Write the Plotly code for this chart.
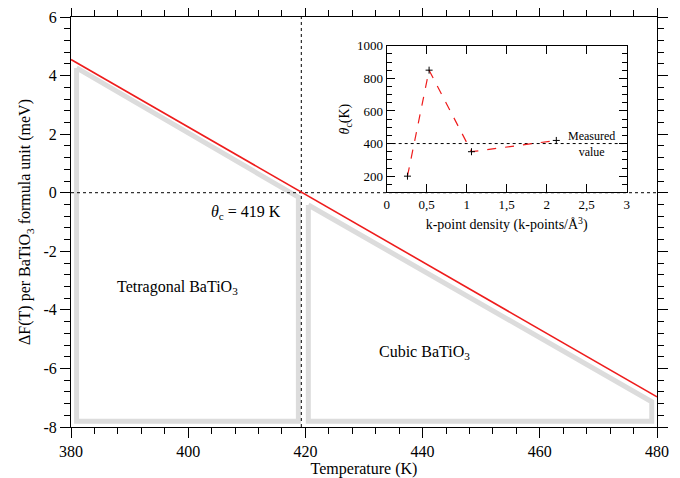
import plotly.graph_objects as go

# ---- Main panel data ----
temp_line = [380, 480]
dF_line = [4.55, -6.97]

tet_x = [380.95, 380.95, 418.8, 418.8, 380.95]
tet_y = [4.26, -7.8, -7.8, -0.15, 4.26]
cub_x = [420.5, 420.5, 479.1, 479.1, 420.5]
cub_y = [-0.42, -7.8, -7.8, -7.14, -0.42]

theta_c = 419.3
zero_x = [380, 480]
zero_y = [0, 0]
vline_y = [-8, 6]

main_y_ticks = [-8, -6, -4, -2, 0, 2, 4, 6]
main_y_labels = ["-8", "-6", "-4", "-2", "0", "2", "4", "6"]

# ---- Inset data ----
kdens = [0.26, 0.53, 1.06, 2.12]
theta = [200, 850, 350, 419]
measured = 400
inset_x_ticks = [0, 0.5, 1, 1.5, 2, 2.5, 3]
inset_x_labels = ["0", "0,5", "1", "1,5", "2", "2,5", "3"]
inset_y_ticks = [200, 400, 600, 800, 1000]

FONT = "Liberation Serif"
GRAY = "#dcdcdc"

fig = go.Figure()

# gray region outlines
fig.add_trace(go.Scatter(x=tet_x, y=tet_y, mode="lines",
                         line=dict(color=GRAY, width=5), hoverinfo="skip"))
fig.add_trace(go.Scatter(x=cub_x, y=cub_y, mode="lines",
                         line=dict(color=GRAY, width=5), hoverinfo="skip"))
# dotted reference lines
fig.add_trace(go.Scatter(x=zero_x, y=zero_y, mode="lines",
                         line=dict(color="black", width=1, dash="dot")))
fig.add_trace(go.Scatter(x=[theta_c, theta_c], y=vline_y, mode="lines",
                         line=dict(color="black", width=1, dash="dot")))
# red free energy line
fig.add_trace(go.Scatter(x=temp_line, y=dF_line, mode="lines",
                         line=dict(color="#ee1c1c", width=1.6)))

# inset
fig.add_trace(go.Scatter(x=[0, 3], y=[measured, measured], mode="lines",
                         line=dict(color="black", width=1, dash="dot"),
                         xaxis="x2", yaxis="y2"))
fig.add_trace(go.Scatter(x=kdens, y=theta, mode="lines+markers",
                         line=dict(color="#ee1c1c", width=1.2, dash="dash"),
                         marker=dict(symbol="cross-thin", size=5, color="black",
                                     line=dict(color="black", width=1)),
                         xaxis="x2", yaxis="y2"))

fig.update_layout(
    width=672, height=470,
    margin=dict(l=63, r=23, t=9, b=51, autoexpand=False),
    paper_bgcolor="white", plot_bgcolor="white",
    showlegend=False,
    font=dict(family=FONT, size=16, color="black"),
    xaxis=dict(range=[380, 480], dtick=20, tick0=380, automargin=False,
               showline=True, linecolor="black", linewidth=1, mirror="ticks",
               ticks="outside", ticklen=10, tickcolor="black",
               minor=dict(dtick=4, ticklen=6, ticks="outside", tickcolor="black"),
               showgrid=False, zeroline=False,
               title=dict(text="Temperature (K)", standoff=2,
                          font=dict(size=16))),
    yaxis=dict(range=[-8, 6], tickvals=main_y_ticks, ticktext=main_y_labels,
               automargin=False,
               showline=True, linecolor="black", linewidth=1, mirror="ticks",
               ticks="outside", ticklen=10, tickcolor="black",
               minor=dict(dtick=0.4, tick0=0, ticklen=6, ticks="outside",
                          tickcolor="black"),
               showgrid=False, zeroline=False,
               title=dict(text="ΔF(T) per BaTiO<sub>3</sub> formula unit (meV)",
                          standoff=8, font=dict(size=16))),
    xaxis2=dict(domain=[0.5387, 0.9483], anchor="y2", range=[0, 3],
                automargin=False,
                tickvals=inset_x_ticks, ticktext=inset_x_labels,
                showline=True, linecolor="black", linewidth=1, mirror="ticks",
                ticks="inside", ticklen=8, tickcolor="black",
                showgrid=False, zeroline=False,
                tickfont=dict(size=13),
                title=dict(text="k-point density (k-points/Å<sup>3</sup>)",
                           standoff=8, font=dict(size=14))),
    yaxis2=dict(domain=[0.572, 0.930], anchor="x2", range=[100, 1000],
                automargin=False,
                tickvals=inset_y_ticks,
                showline=True, linecolor="black", linewidth=1, mirror="ticks",
                ticks="inside", ticklen=8, tickcolor="black",
                minor=dict(dtick=50, ticklen=5, ticks="inside", tickcolor="black"),
                showgrid=False, zeroline=False,
                tickfont=dict(size=13),
                title=dict(text="<i>θ</i><sub>c</sub>(K)", standoff=4,
                           font=dict(size=14))),
    annotations=[
        dict(x=409.9, y=-0.69, xref="x", yref="y", showarrow=False,
             text="<i>θ</i><sub>c</sub> = 419 K", font=dict(size=16)),
        dict(x=398.1, y=-3.25, xref="x", yref="y", showarrow=False,
             text="Tetragonal BaTiO<sub>3</sub>", font=dict(size=16)),
        dict(x=440.4, y=-5.44, xref="x", yref="y", showarrow=False,
             text="Cubic BaTiO<sub>3</sub>", font=dict(size=16)),
        dict(x=2.56, y=measured, xref="x2", yref="y2", showarrow=False,
             text="Measured<br>value", font=dict(size=12), align="center"),
    ],
)

fig.write_html("out.html")
